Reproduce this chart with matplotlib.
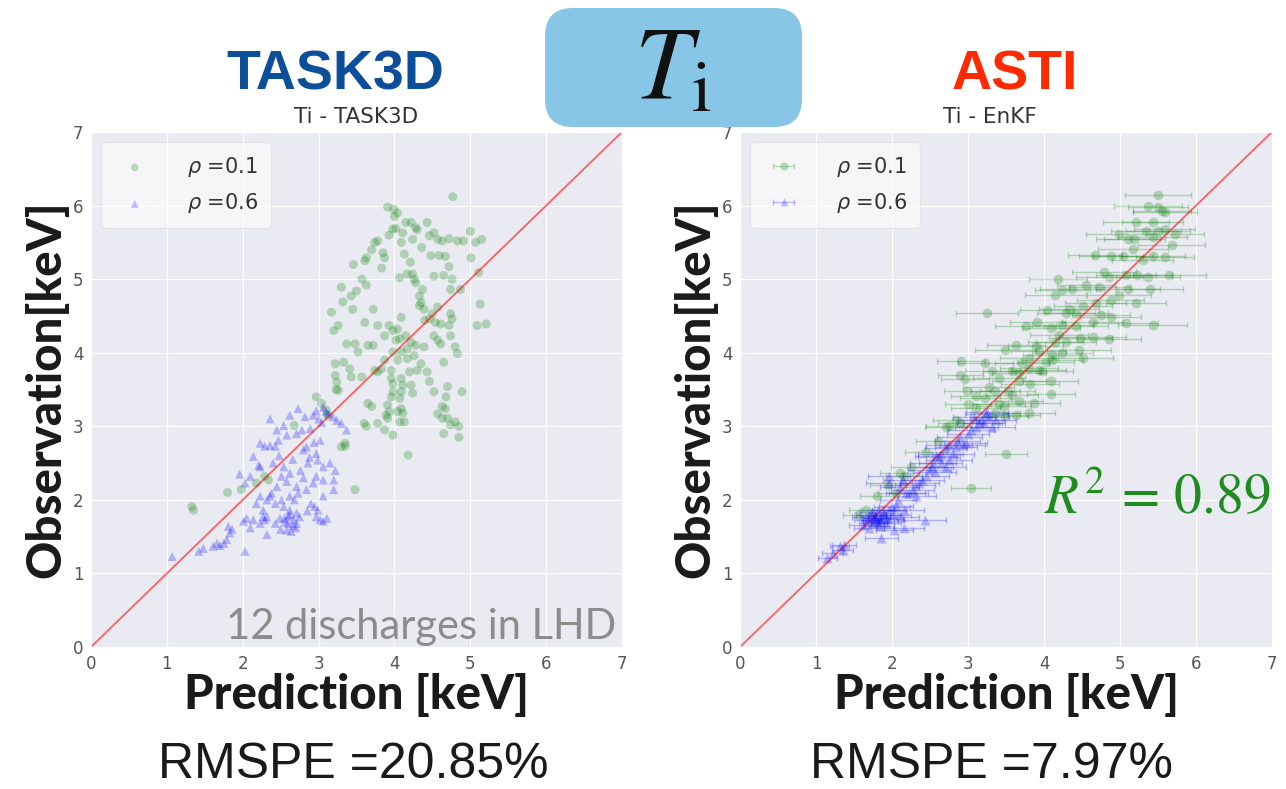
import numpy as np
import matplotlib
matplotlib.use("Agg")
import matplotlib.pyplot as plt
import seaborn as sns
from matplotlib.patches import FancyBboxPatch

# ---- data: Ti prediction vs observation (keV) ----
# TASK3D, rho = 0.1
task_g = [
    (4.77, 6.12), (3.91, 5.98), (3.99, 5.95), (4.04, 5.90), (4.00, 5.85), (4.15, 5.77),
    (4.22, 5.77), (4.28, 5.70), (4.30, 5.67), (4.43, 5.77), (3.98, 5.68), (4.02, 5.69),
    (3.93, 5.60), (4.11, 5.63), (3.78, 5.52), (3.74, 5.50), (4.09, 5.50), (4.24, 5.54),
    (4.46, 5.59), (4.52, 5.63), (4.57, 5.54), (4.63, 5.52), (4.72, 5.55), (4.83, 5.52),
    (4.91, 5.52), (5.00, 5.65), (5.07, 5.50), (5.15, 5.54), (3.70, 5.40), (3.63, 5.29),
    (3.61, 5.25), (3.85, 5.36), (3.87, 5.29), (4.36, 5.43), (4.13, 5.34), (4.48, 5.32),
    (4.59, 5.32), (4.67, 5.31), (5.01, 5.29), (3.46, 5.20), (4.21, 5.23), (4.72, 5.17),
    (3.83, 5.15), (4.07, 5.02), (4.17, 5.07), (4.24, 5.07), (4.26, 5.00), (4.28, 4.95),
    (4.52, 5.04), (4.65, 5.05), (4.76, 5.00), (5.11, 5.09), (3.57, 5.00), (3.63, 4.92),
    (3.30, 4.89), (3.43, 4.77), (3.50, 4.84), (3.32, 4.69), (3.45, 4.59), (4.37, 4.86),
    (4.33, 4.77), (4.35, 4.68), (4.33, 4.64), (4.39, 4.59), (4.74, 4.86), (4.87, 4.86),
    (5.13, 4.66), (3.72, 4.59), (4.57, 4.62), (4.50, 4.53), (4.46, 4.46), (4.74, 4.53),
    (4.76, 4.46), (4.72, 4.37), (3.17, 4.55), (3.26, 4.37), (3.20, 4.30), (3.61, 4.41),
    (3.78, 4.37), (3.93, 4.37), (4.09, 4.48), (3.98, 4.30), (4.04, 4.32), (4.40, 4.44),
    (4.54, 4.41), (4.61, 4.39), (5.09, 4.37), (5.21, 4.39), (3.87, 4.23), (4.02, 4.17),
    (4.07, 4.19), (4.15, 4.23), (4.22, 4.14), (4.28, 4.10), (4.52, 4.23), (4.57, 4.17),
    (4.61, 4.12), (4.74, 4.23), (3.37, 4.12), (3.48, 4.12), (3.65, 4.10), (3.72, 4.10),
    (3.52, 4.01), (4.39, 4.08), (4.80, 4.08), (4.83, 3.99), (3.98, 4.01), (4.09, 4.01),
    (4.17, 4.05), (4.26, 3.96), (3.87, 3.90), (4.04, 3.90), (4.17, 3.92), (4.35, 3.85),
    (4.65, 3.87), (3.22, 3.85), (3.33, 3.87), (3.74, 3.76), (3.78, 3.74), (3.83, 3.78),
    (3.96, 3.76), (4.20, 3.74), (4.30, 3.76), (4.43, 3.74), (3.41, 3.78), (3.43, 3.67),
    (3.22, 3.69), (3.24, 3.60), (3.26, 3.49), (3.57, 3.67), (3.96, 3.65), (3.98, 3.58),
    (4.09, 3.65), (4.11, 3.56), (4.46, 3.61), (3.98, 3.47), (4.09, 3.47), (3.96, 3.40),
    (4.07, 3.38), (4.22, 3.56), (4.24, 3.45), (4.52, 3.47), (4.70, 3.54), (4.89, 3.47),
    (4.68, 3.40), (3.91, 3.29), (3.93, 3.20), (3.89, 3.15), (4.09, 3.24), (4.04, 3.20),
    (4.11, 3.18), (4.07, 3.06), (4.13, 3.06), (3.70, 3.27), (4.63, 3.27), (4.67, 3.24),
    (4.57, 3.17), (4.63, 3.11), (4.70, 3.11), (4.80, 3.06), (4.74, 3.02), (4.85, 3.00),
    (4.65, 2.90), (4.85, 2.85), (3.78, 3.04), (3.63, 3.00), (3.98, 2.88), (3.35, 2.73),
    (4.18, 2.61), (3.87, 2.95), (3.91, 3.11), (1.33, 1.91), (1.35, 1.86), (1.80, 2.10),
    (1.98, 2.14), (2.18, 2.23), (2.29, 2.32), (2.34, 2.27), (2.68, 3.01), (2.97, 3.40),
    (3.04, 3.31), (3.23, 3.50), (3.30, 2.72), (3.35, 2.77), (3.48, 2.14), (3.60, 3.04),
    (3.65, 3.31), (3.10, 3.22), (3.12, 3.15),
]

# TASK3D, rho = 0.6
task_b = [
    (1.07, 1.23), (1.42, 1.30), (1.48, 1.34), (1.61, 1.37), (1.66, 1.41), (1.70, 1.38),
    (1.75, 1.41), (1.79, 1.46), (1.83, 1.55), (1.81, 1.64), (1.86, 1.60), (2.03, 1.30),
    (2.10, 1.62), (2.01, 1.71), (2.05, 1.75), (2.32, 1.53), (1.96, 2.35), (2.10, 2.32),
    (2.03, 2.23), (2.14, 2.59), (2.21, 2.47), (2.23, 2.45), (2.27, 1.86), (2.32, 1.77),
    (2.18, 1.95), (2.23, 2.05), (2.36, 2.05), (2.23, 2.77), (2.29, 2.73), (2.36, 2.74),
    (2.43, 2.73), (2.36, 3.10), (2.45, 2.95), (2.54, 3.01), (2.62, 3.15), (2.73, 3.24),
    (2.82, 3.13), (2.93, 3.15), (2.97, 3.21), (2.47, 2.81), (2.58, 2.88), (2.71, 2.90),
    (2.78, 2.95), (2.89, 2.97), (2.54, 2.45), (2.62, 2.36), (2.51, 2.32), (2.58, 2.25),
    (2.71, 2.18), (2.80, 2.68), (2.84, 2.72), (2.97, 2.63), (3.02, 2.81), (2.99, 2.54),
    (3.06, 2.45), (3.15, 2.50), (2.45, 2.18), (2.38, 2.09), (2.32, 2.00), (2.43, 1.95),
    (2.51, 2.00), (2.62, 2.05), (2.73, 2.09), (2.84, 2.14), (2.93, 2.23), (2.97, 2.32),
    (3.06, 2.27), (2.54, 1.91), (2.62, 1.86), (2.71, 1.82), (2.67, 1.73), (2.60, 1.68),
    (2.58, 1.59), (2.64, 1.57), (2.71, 1.68), (2.75, 1.77), (2.27, 1.77), (2.29, 1.73),
    (2.14, 1.73), (2.23, 1.68), (2.43, 1.68), (2.49, 1.75), (2.97, 1.77), (3.02, 1.73),
    (3.06, 1.71), (3.11, 1.75), (2.95, 1.91), (2.99, 1.86), (3.06, 2.05), (3.22, 2.40),
    (3.20, 2.27), (3.20, 2.14), (3.06, 3.26), (3.13, 3.17), (3.19, 3.13), (3.24, 3.08),
    (3.30, 3.04), (3.37, 2.95), (2.62, 1.80), (2.66, 1.65), (2.70, 1.62), (2.56, 1.70),
    (2.60, 1.78), (2.68, 2.00), (2.76, 2.40), (2.88, 2.58), (2.94, 2.78), (3.00, 3.10),
    (3.10, 3.20), (3.04, 3.05), (2.86, 2.50), (2.80, 2.30), (2.66, 2.55), (2.48, 2.60),
    (2.40, 2.50), (2.90, 1.95), (2.85, 1.85), (2.50, 1.60), (2.55, 1.75),
]

# ASTI (EnKF), rho = 0.1: prediction, observation, prediction error
asti_g = [
    (5.50, 6.14, 0.43), (5.37, 5.99, 0.45), (5.50, 5.98, 0.40), (5.59, 5.91, 0.42),
    (5.55, 5.93, 0.38), (5.21, 5.78, 0.44), (5.43, 5.78, 0.40), (5.34, 5.66, 0.46),
    (5.50, 5.66, 0.42), (5.59, 5.68, 0.40), (5.72, 5.62, 0.38), (4.99, 5.62, 0.44),
    (5.10, 5.55, 0.42), (5.19, 5.55, 0.40), (5.43, 5.57, 0.45), (5.68, 5.46, 0.44),
    (5.59, 5.30, 0.38), (5.43, 5.32, 0.42), (5.30, 5.26, 0.40), (5.17, 5.41, 0.46),
    (4.88, 5.32, 0.42), (4.67, 5.33, 0.36), (5.04, 5.32, 0.40), (4.79, 5.10, 0.42),
    (4.86, 5.03, 0.44), (5.08, 5.05, 0.40), (5.23, 5.05, 0.46), (5.37, 5.03, 0.42),
    (5.65, 5.06, 0.48), (4.18, 5.00, 0.38), (5.10, 4.87, 0.42), (5.39, 4.87, 0.44),
    (4.73, 4.90, 0.40), (4.55, 4.92, 0.38), (4.37, 4.87, 0.42), (4.24, 4.85, 0.36),
    (4.15, 4.78, 0.40), (4.88, 4.72, 0.44), (5.21, 4.67, 0.40), (4.99, 4.78, 0.42),
    (4.68, 4.67, 0.40), (4.51, 4.63, 0.38), (4.33, 4.60, 0.40), (4.42, 4.54, 0.42),
    (4.29, 4.54, 0.38), (4.04, 4.58, 0.36), (3.25, 4.54, 0.41), (5.08, 4.40, 0.42),
    (5.43, 4.38, 0.45), (4.88, 4.49, 0.40), (4.75, 4.51, 0.38), (3.91, 4.42, 0.36),
    (3.76, 4.36, 0.40), (4.09, 4.33, 0.38), (4.24, 4.38, 0.40), (4.42, 4.36, 0.42),
    (4.64, 4.42, 0.40), (4.20, 4.24, 0.38), (4.15, 4.15, 0.36), (4.29, 4.15, 0.40),
    (4.48, 4.20, 0.42), (4.64, 4.21, 0.44), (4.85, 4.18, 0.42), (3.89, 4.09, 0.36),
    (3.63, 4.11, 0.38), (3.49, 4.04, 0.40), (3.93, 4.02, 0.36), (4.11, 3.97, 0.38),
    (4.24, 4.00, 0.40), (4.46, 4.04, 0.42), (4.51, 3.93, 0.40), (3.80, 3.93, 0.38),
    (3.71, 3.86, 0.36), (4.02, 3.88, 0.38), (4.11, 3.90, 0.40), (2.91, 3.89, 0.32),
    (3.23, 3.86, 0.36), (3.80, 3.79, 0.38), (3.93, 3.77, 0.36), (3.98, 3.75, 0.40),
    (3.67, 3.73, 0.36), (3.58, 3.75, 0.38), (2.90, 3.70, 0.30), (2.96, 3.64, 0.32),
    (3.32, 3.75, 0.36), (3.41, 3.66, 0.34), (4.09, 3.61, 0.36), (3.82, 3.57, 0.38),
    (3.67, 3.61, 0.36), (3.27, 3.54, 0.34), (3.36, 3.48, 0.32), (3.52, 3.48, 0.36),
    (3.58, 3.43, 0.34), (3.10, 3.41, 0.32), (2.99, 3.48, 0.30), (3.23, 3.39, 0.34),
    (4.09, 3.44, 0.32), (3.87, 3.31, 0.34), (3.47, 3.27, 0.36), (3.67, 3.34, 0.32),
    (3.80, 3.18, 0.34), (3.00, 3.30, 0.30), (3.10, 3.25, 0.32), (3.41, 3.30, 0.34),
    (3.63, 3.16, 0.32), (3.49, 3.14, 0.30), (3.36, 3.18, 0.32), (3.04, 2.16, 0.26),
    (3.50, 2.63, 0.28), (2.10, 2.36, 0.26), (2.16, 2.32, 0.24), (2.05, 2.09, 0.24),
    (1.66, 1.86, 0.22), (2.75, 3.01, 0.30), (2.71, 2.99, 0.28), (2.84, 3.08, 0.30),
    (1.80, 2.05, 0.22), (1.95, 2.20, 0.24), (2.25, 2.45, 0.26), (2.45, 2.65, 0.28),
    (2.60, 2.80, 0.28), (2.90, 3.05, 0.30), (1.55, 1.80, 0.20),
]

# ASTI (EnKF), rho = 0.6
asti_b = [
    (1.15, 1.21, 0.12), (1.22, 1.28, 0.14), (1.31, 1.37, 0.12), (1.35, 1.32, 0.14),
    (1.37, 1.39, 0.16), (1.66, 1.77, 0.18), (1.72, 1.80, 0.20), (1.79, 1.75, 0.18),
    (1.86, 1.71, 0.22), (1.92, 1.68, 0.20), (1.75, 1.68, 0.18), (1.70, 1.62, 0.20),
    (1.81, 1.86, 0.22), (1.88, 1.82, 0.20), (1.96, 1.86, 0.22), (2.01, 1.80, 0.24),
    (2.05, 1.91, 0.22), (2.12, 1.77, 0.24), (2.16, 1.86, 0.26), (1.77, 1.73, 0.18),
    (1.83, 1.64, 0.20), (1.86, 1.48, 0.22), (2.03, 1.59, 0.24), (2.16, 1.62, 0.26),
    (2.43, 1.73, 0.28), (2.18, 2.09, 0.26), (2.27, 2.14, 0.28), (2.36, 2.23, 0.26),
    (2.40, 2.27, 0.28), (2.45, 2.32, 0.30), (2.32, 2.05, 0.26), (1.96, 2.32, 0.28),
    (2.14, 2.27, 0.26), (1.96, 2.23, 0.30), (2.10, 2.18, 0.26), (2.49, 2.41, 0.28),
    (2.54, 2.50, 0.30), (2.58, 2.59, 0.28), (2.64, 2.63, 0.30), (2.71, 2.70, 0.28),
    (2.75, 2.74, 0.30), (2.84, 2.72, 0.28), (2.93, 2.74, 0.30), (2.80, 2.63, 0.28),
    (2.89, 2.86, 0.30), (2.97, 2.77, 0.28), (3.04, 2.95, 0.30), (3.11, 2.99, 0.28),
    (3.17, 3.08, 0.30), (3.24, 3.17, 0.28), (3.28, 3.13, 0.26), (3.21, 3.04, 0.28),
    (3.32, 2.99, 0.30), (3.37, 3.08, 0.26), (3.08, 3.13, 0.28), (2.64, 2.50, 0.28),
    (2.75, 2.54, 0.30), (2.56, 2.38, 0.28), (2.71, 2.45, 0.26), (1.78, 1.78, 0.20),
    (1.84, 1.76, 0.22), (1.90, 1.80, 0.20), (1.74, 1.84, 0.18), (1.82, 1.70, 0.20),
    (1.94, 1.74, 0.22), (2.00, 1.90, 0.24), (2.08, 2.00, 0.24), (2.22, 2.10, 0.26),
    (2.30, 2.20, 0.26), (2.52, 2.45, 0.28), (2.62, 2.58, 0.28), (2.86, 2.80, 0.30),
    (3.00, 2.90, 0.28), (3.15, 3.05, 0.30), (3.25, 3.20, 0.28), (1.68, 1.72, 0.18),
    (1.62, 1.66, 0.18),
]

legend_labels = [r"$\rho$ =0.1", r"$\rho$ =0.6"]
ticks = [0, 1, 2, 3, 4, 5, 6, 7]
lims = [0, 7]
r2_text = r"$R^2\,=\,0.89$"
rmspe = ["RMSPE =20.85%", "RMSPE =7.97%"]

# ---- figure ----
sns.set_style("darkgrid")
W, H = 1286, 789
fig = plt.figure(figsize=(W / 100, H / 100), dpi=100)

ax1 = fig.add_axes([91 / W, 1 - 647 / H, 531 / W, 515 / H])
ax2 = fig.add_axes([740 / W, 1 - 647 / H, 532 / W, 515 / H])

tg = np.array(task_g)
tb = np.array(task_b)
ag = np.array(asti_g)
ab = np.array(asti_b)

ax1.scatter(tg[:, 0], tg[:, 1], s=42, c="g", alpha=0.25, edgecolors="none",
            label=legend_labels[0])
ax1.scatter(tb[:, 0], tb[:, 1], s=42, c="b", marker="^", alpha=0.25,
            edgecolors="none", label=legend_labels[1])

ax2.errorbar(ag[:, 0], ag[:, 1], xerr=ag[:, 2], fmt="o", color="g", ms=7,
             mec="none", alpha=0.25, capsize=2.5, elinewidth=1,
             label=legend_labels[0])
ax2.errorbar(ab[:, 0], ab[:, 1], xerr=ab[:, 2], fmt="^", color="b", ms=6.5,
             mec="none", alpha=0.25, capsize=2.5, elinewidth=1,
             label=legend_labels[1])

label_font = dict(family=["Lato", "DejaVu Sans"], fontsize=34, fontweight="black",
                  color="#1a1a1a")
for ax in (ax1, ax2):
    ax.plot(lims, lims, color="red", alpha=0.55, lw=1.4)
    ax.set_xlim(lims)
    ax.set_ylim(lims)
    ax.set_xticks(ticks)
    ax.set_yticks(ticks)
    ax.tick_params(labelsize=12, colors="#555555", pad=2)
    ax.set_xlabel("Prediction [keV]", **label_font)
    ax.set_ylabel("Observation[keV]", **label_font)
    ax.xaxis.set_label_coords(0.5, -0.05)
    ax.yaxis.set_label_coords(-0.042, 0.5)
    leg = ax.legend(loc="upper left", fontsize=15, frameon=True, borderpad=0.6,
                    handletextpad=1.5, labelspacing=0.6, markerscale=0.85)
    leg.get_frame().set_facecolor("white")
    leg.get_frame().set_alpha(0.6)
    leg.get_frame().set_edgecolor("#dddddd")
    for t in leg.get_texts():
        t.set_color("#333333")

ax1.text(0.5, 1.01, "Ti - TASK3D", transform=ax1.transAxes, ha="center",
         va="bottom", fontsize=15.5, color="#333333")
ax2.text(0.47, 1.01, "Ti - EnKF", transform=ax2.transAxes, ha="center",
         va="bottom", fontsize=15.5, color="#333333")

ax1.text(6.92, 0.11, "12 discharges in LHD", ha="right", va="baseline",
         family=["Lato", "DejaVu Sans"], fontsize=30, color="#8c8c8c")
ax2.text(4.0, 1.8, r2_text, ha="left", va="baseline", fontsize=40,
         color="#1e8c1e", math_fontfamily="stix")

# headings above the panels
fig.text(335 / W, 1 - 90 / H, "TASK3D", ha="center", va="baseline",
         family=["Liberation Sans", "DejaVu Sans"], fontweight="bold",
         fontsize=40, color="#0b4f9a")
fig.text(1015 / W, 1 - 90 / H, "ASTI", ha="center", va="baseline",
         family=["Liberation Sans", "DejaVu Sans"], fontweight="bold",
         fontsize=40, color="#ff2a00")

box = FancyBboxPatch((5.45, (H - 127) / 100), 2.57, 1.19,
                     boxstyle="round,pad=0,rounding_size=0.28",
                     transform=fig.dpi_scale_trans, facecolor="#87c6e6",
                     edgecolor="none", zorder=5)
fig.patches.append(box)
fig.text(673 / W, 1 - 98 / H, r"$T_{\rm i}$", ha="center", va="baseline",
         fontsize=74, color="#111111", math_fontfamily="stix", zorder=6)

for xc, s in zip([353, 991], rmspe):
    fig.text(xc / W, 1 - 778 / H, s, ha="center", va="baseline",
             family=["Liberation Sans", "DejaVu Sans"],
             fontsize=36, color="#1a1a1a")

fig.savefig("out.png", dpi=100)
